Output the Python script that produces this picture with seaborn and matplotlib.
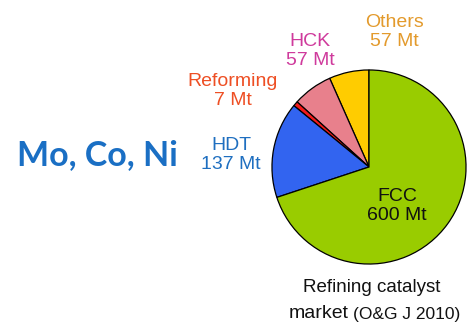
import matplotlib
matplotlib.use("Agg")
import matplotlib.pyplot as plt
import seaborn as sns

sns.set_theme(style="white")
plt.rcParams["font.family"] = ["Liberation Sans", "DejaVu Sans"]

# Refining catalyst market, counter-clockwise from 12 o'clock
segments = ["Others", "HCK", "Reforming", "HDT", "FCC"]
volumes_mt = [57, 57, 7, 137, 600]
slice_colors = ["#ffcc00", "#e8808c", "#f21a1a", "#3264f0", "#99cc00"]
label_colors = ["#e39a2c", "#cf3a9c", "#ee4f24", "#1f6fc0", "#111111"]

fig = plt.figure(figsize=(4.68, 3.22), dpi=100)
fig.patch.set_facecolor("white")

ax = fig.add_axes([271 / 468, 1 - 265 / 322, 196 / 468, 196 / 322])
ax.pie(
    volumes_mt,
    colors=slice_colors,
    startangle=90,
    counterclock=True,
    radius=1.0,
    wedgeprops=dict(edgecolor="black", linewidth=0.9),
)
ax.set_xlim(-1.01, 1.01)
ax.set_ylim(-1.01, 1.01)
ax.set_aspect("equal")
ax.axis("off")


def fx(px):
    return px / 468


def fy(py):
    return 1 - py / 322


# slice labels (name + volume)
label_pos = {
    "Others": (394, 32),
    "HCK": (310, 51),
    "Reforming": (233, 91),
    "HDT": (231, 155),
    "FCC": (397, 206),
}
for name, vol, col in zip(segments, volumes_mt, label_colors):
    x, y = label_pos[name]
    fig.text(fx(x), fy(y), f"{name}\n{vol} Mt", color=col, fontsize=14,
             ha="center", va="center", linespacing=1.2)

fig.text(fx(97), fy(155), "Mo, Co, Ni", color="#1a6fc4", fontsize=24.5,
         fontweight="bold", family=["Lato", "DejaVu Sans"],
         ha="center", va="center")

fig.text(fx(372), fy(288), "Refining catalyst", color="#111111",
         fontsize=13.5, ha="center", va="center")
fig.text(fx(289), fy(313), "market", color="#111111", fontsize=14,
         ha="left", va="center")
fig.text(fx(353), fy(314), "(O&G J 2010)", color="#111111", fontsize=12.5,
         ha="left", va="center")

fig.savefig("out.png", dpi=100, facecolor="white")
